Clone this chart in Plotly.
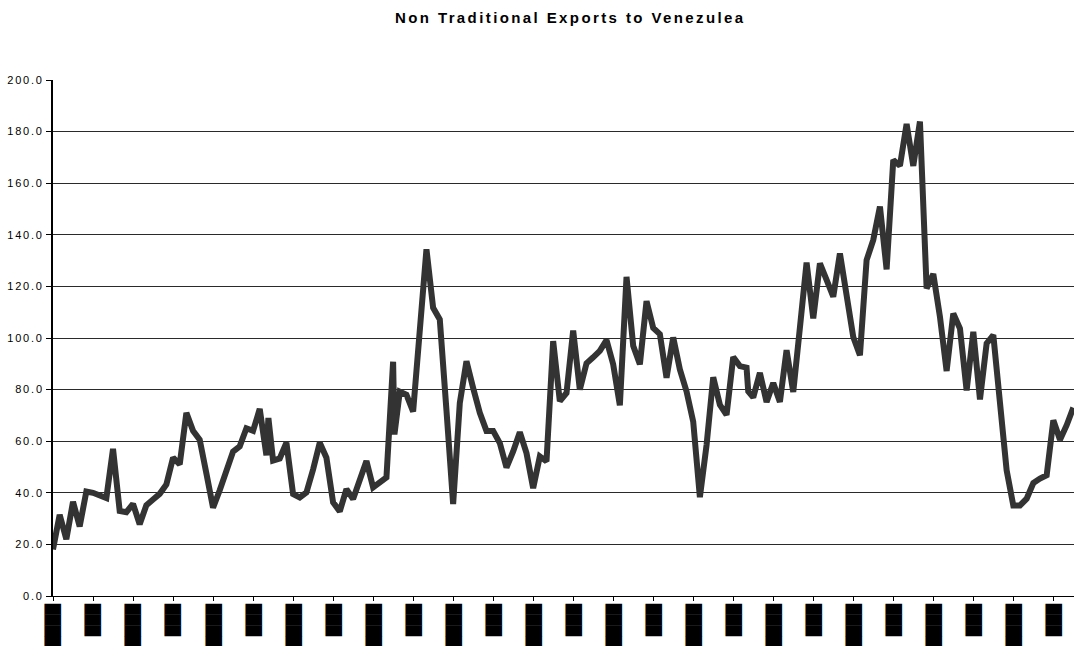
import plotly.graph_objects as go

# Monthly index of each observation (ticks every six months)
month = [
    0, 1, 2, 3, 4, 5, 6, 7, 8, 9,
    10, 11, 12, 13, 14, 15, 16, 17, 18, 19,
    20, 21, 22, 23, 24, 25, 26, 27, 28, 29,
    30, 31, 32, 32.3, 33, 34, 35, 36, 37, 38, 39,
    40, 41, 42, 43, 44, 45, 46, 47, 48, 49,
    50, 51, 51.2, 52, 53, 54, 55, 56, 57, 58, 59,
    60, 61, 62, 63, 64, 65, 66, 67, 68, 69,
    70, 71, 72, 73, 74, 75, 76, 77, 78, 79,
    80, 81, 82, 83, 84, 85, 86, 87, 88, 89,
    90, 91, 92, 93, 94, 95, 96, 97, 98, 99,
    100, 101, 102, 103, 104, 104.25, 105, 106, 107, 108, 109,
    110, 111, 112, 113, 114, 115, 116, 117, 118, 119,
    120, 121, 122, 123, 124, 125, 126, 127, 128, 129,
    130, 131, 132, 133, 134, 135, 136, 137, 138, 139,
    140, 141, 142, 143, 144, 145, 146, 147, 148, 149,
    150, 151, 152, 153,
]

# Non traditional exports to Venezuela
exports = [
    18.0, 31.5, 22.0, 36.5, 27.0, 40.5, 40.0, 38.8, 38.0, 57.0,
    33.0, 32.5, 35.7, 27.8, 35.2, 37.4, 39.6, 43.2, 53.6, 51.0,
    71.0, 64.0, 60.6, 47.5, 34.2, 41.0, 48.5, 56.0, 58.0, 65.0,
    64.0, 72.5, 54.5, 69.0, 52.5, 53.3, 59.4, 39.5, 38.2, 40.1, 49.0,
    59.4, 53.6, 36.3, 32.8, 41.4, 37.6, 45.3, 52.3, 42.1, 44.0,
    46.0, 90.8, 62.6, 79.2, 78.0, 71.5, 103.0, 134.4, 111.7, 107.2, 72.0,
    35.6, 74.8, 91.0, 80.6, 71.0, 64.0, 64.0, 59.3, 49.8, 56.0,
    63.5, 55.4, 41.8, 54.1, 52.2, 98.8, 75.5, 78.7, 102.9, 80.0,
    90.2, 92.5, 95.0, 99.2, 89.8, 73.9, 123.7, 97.0, 89.8, 114.3,
    103.9, 101.5, 84.6, 100.2, 87.8, 79.3, 67.6, 38.3, 58.5, 84.8,
    74.1, 70.2, 92.6, 89.1, 88.5, 79.3, 77.0, 86.5, 75.2, 82.6, 75.2,
    95.3, 79.1, 104.0, 129.2, 107.6, 128.9, 122.5, 116.0, 132.8, 116.0,
    100.4, 93.3, 130.2, 138.0, 150.9, 126.6, 169.0, 166.8, 183.0, 166.7,
    183.9, 119.2, 124.8, 108.2, 87.2, 109.5, 103.7, 79.7, 102.4, 76.2,
    97.9, 101.1, 75.9, 48.7, 35.1, 35.1, 37.7, 43.8, 45.5, 46.8,
    68.1, 60.6, 66.2, 73.0,
]

# Half-yearly category ticks; their labels render as solid blocks
tick_months = list(range(0, 151, 6))
tick_labels = ["████" if k % 2 == 0 else "███" for k in range(len(tick_months))]

y_ticks = [0, 20, 40, 60, 80, 100, 120, 140, 160, 180, 200]

fig = go.Figure(
    go.Scatter(
        x=month,
        y=exports,
        mode="lines",
        line=dict(color="#333333", width=6),
        hoverinfo="x+y",
    )
)

fig.update_layout(
    width=1074,
    height=646,
    margin=dict(l=53, r=0, t=80, b=50),
    paper_bgcolor="white",
    plot_bgcolor="white",
    showlegend=False,
    title=dict(
        text="<b>Non Traditional Exports to Venezulea</b>",
        x=0.531,
        xanchor="center",
        y=0.972,
        yanchor="middle",
        font=dict(family="Liberation Sans, Arial, sans-serif", size=15, color="black"),
    ),
    font=dict(family="Liberation Sans, Arial, sans-serif", size=11, color="black"),
)

fig.update_xaxes(
    range=[0, 153.1],
    tickmode="array",
    tickvals=tick_months,
    ticktext=tick_labels,
    tickangle=90,
    ticks="outside",
    ticklen=4,
    tickcolor="black",
    tickfont=dict(family="DejaVu Sans", size=14, color="black"),
    showgrid=False,
    showline=True,
    linecolor="black",
    linewidth=1,
    zeroline=False,
    automargin=False,
)

fig.update_yaxes(
    range=[0, 200],
    tickmode="array",
    tickvals=y_ticks,
    tickformat=".1f",
    ticks="outside",
    ticklen=5,
    tickcolor="black",
    showgrid=True,
    gridcolor="#2a2a2a",
    gridwidth=1,
    showline=True,
    linecolor="black",
    linewidth=2,
    zeroline=False,
    automargin=False,
)

# Widen the letter spacing of the title and value labels
spacing_js = """
document.querySelectorAll('.gtitle').forEach(function(t){t.style.letterSpacing='2.4px';});
document.querySelectorAll('.ytick text').forEach(function(t){t.style.letterSpacing='1.8px';});
"""

fig.write_html("out.html", post_script=spacing_js)
